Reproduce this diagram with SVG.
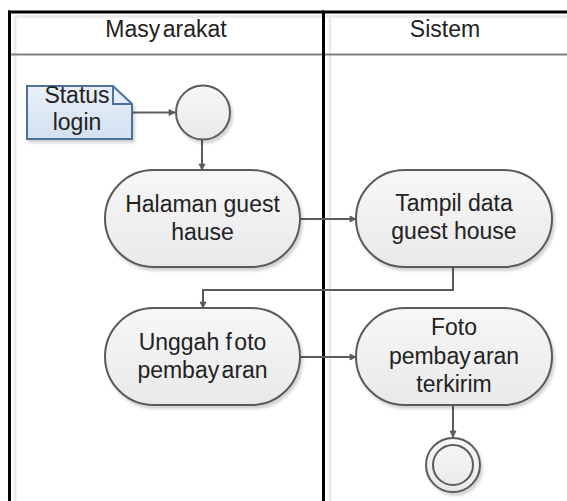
<svg xmlns="http://www.w3.org/2000/svg" width="567" height="501" viewBox="0 0 567 501">
  <defs>
    <linearGradient id="actFill" x1="0" y1="0" x2="0" y2="1">
      <stop offset="0" stop-color="#f7f7f7"/>
      <stop offset="1" stop-color="#e9e9e9"/>
    </linearGradient>
    <linearGradient id="noteFill" x1="0" y1="0" x2="0" y2="1">
      <stop offset="0" stop-color="#e9f0f9"/>
      <stop offset="1" stop-color="#d3e0f0"/>
    </linearGradient>
    <filter id="shadow" x="-10%" y="-10%" width="130%" height="130%">
      <feGaussianBlur in="SourceAlpha" stdDeviation="1.5"/>
      <feOffset dx="2" dy="3" result="b"/>
      <feComponentTransfer><feFuncA type="linear" slope="0.18"/></feComponentTransfer>
      <feMerge><feMergeNode/><feMergeNode in="SourceGraphic"/></feMerge>
    </filter>
    <marker id="arrow" viewBox="0 0 8 8" refX="7" refY="4" markerWidth="8" markerHeight="8" markerUnits="userSpaceOnUse" orient="auto">
      <path d="M1,1 L7,4 L1,7 Z" fill="#5a5a5a" stroke="#5a5a5a" stroke-width="0.8"/>
    </marker>
  </defs>
  <style>
    text { font-family: "Liberation Sans", Arial, sans-serif; font-size: 23px; fill: #222; text-anchor: middle; }
    .act { fill: url(#actFill); stroke: #5a5a5a; stroke-width: 2; filter: url(#shadow); }
    .conn { fill: none; stroke: #5a5a5a; stroke-width: 2; marker-end: url(#arrow); }
    .frame { stroke: #000; stroke-width: 3; fill: none; }
    .faint { stroke: #ebebeb; stroke-width: 3; fill: none; }
    .tight { word-spacing: -4px; }
  </style>

  <rect width="567" height="501" fill="#fff"/>

  <!-- swimlane frame -->
  <g id="lanes">
    <line class="faint" x1="15" y1="16.5" x2="567" y2="16.5"/>
    <line class="faint" x1="15" y1="16" x2="15" y2="501"/>
    <line class="faint" x1="330" y1="16" x2="330" y2="501"/>
    <line x1="10" y1="54.5" x2="567" y2="54.5" stroke="#808080" stroke-width="2"/>
    <line class="frame" x1="8" y1="12" x2="567" y2="12"/>
    <line class="frame" x1="9.5" y1="10.5" x2="9.5" y2="501"/>
    <line class="frame" x1="323.5" y1="10.5" x2="323.5" y2="501"/>
    <text class="tight" x="166" y="37">Masy arakat</text>
    <text x="445" y="37">Sistem</text>
  </g>

  <!-- connectors -->
  <g id="connectors">
    <path class="conn" d="M132,112.5 H175"/>
    <path class="conn" d="M202,140 V170"/>
    <path class="conn" d="M300,219 H356"/>
    <path class="conn" d="M453,267 V290 H203 V308"/>
    <path class="conn" d="M300,357 H356"/>
    <path class="conn" d="M453,405 V437"/>
  </g>

  <g id="note-status-login">
    <path d="M27,86 H113 L132,104 V139 H27 Z" fill="url(#noteFill)" stroke="#4f6f9f" stroke-width="2" filter="url(#shadow)"/>
    <path d="M113,86 V104 H132" fill="none" stroke="#4f6f9f" stroke-width="2"/>
    <text x="77" y="103">Status</text>
    <text x="77" y="130">login</text>
  </g>

  <g id="start">
    <circle cx="203" cy="112.5" r="27" fill="url(#actFill)" stroke="#5a5a5a" stroke-width="2" filter="url(#shadow)"/>
  </g>

  <g id="halaman-guest-hause">
    <rect class="act" x="105" y="170" width="195" height="97" rx="48.5" ry="48.5"/>
    <text x="202.5" y="212">Halaman guest</text>
    <text x="202.5" y="240">hause</text>
  </g>

  <g id="tampil-data-guest-house">
    <rect class="act" x="356" y="170" width="196" height="97" rx="48.5" ry="48.5"/>
    <text x="454" y="211">Tampil data</text>
    <text x="454" y="239">guest house</text>
  </g>

  <g id="unggah-foto-pembayaran">
    <rect class="act" x="105" y="308" width="195" height="97" rx="48.5" ry="48.5"/>
    <text x="202.5" y="350">Unggah <tspan class="tight">f oto</tspan></text>
    <text class="tight" x="202.5" y="378">pembay aran</text>
  </g>

  <g id="foto-pembayaran-terkirim">
    <rect class="act" x="356" y="308" width="196" height="97" rx="48.5" ry="48.5"/>
    <text x="454" y="335">Foto</text>
    <text class="tight" x="454" y="364">pembay aran</text>
    <text x="454" y="392">terkirim</text>
  </g>

  <g id="end">
    <circle cx="453" cy="465" r="27" fill="url(#actFill)" stroke="#5a5a5a" stroke-width="2" filter="url(#shadow)"/>
    <circle cx="453" cy="465" r="20" fill="none" stroke="#5a5a5a" stroke-width="2"/>
  </g>
</svg>
